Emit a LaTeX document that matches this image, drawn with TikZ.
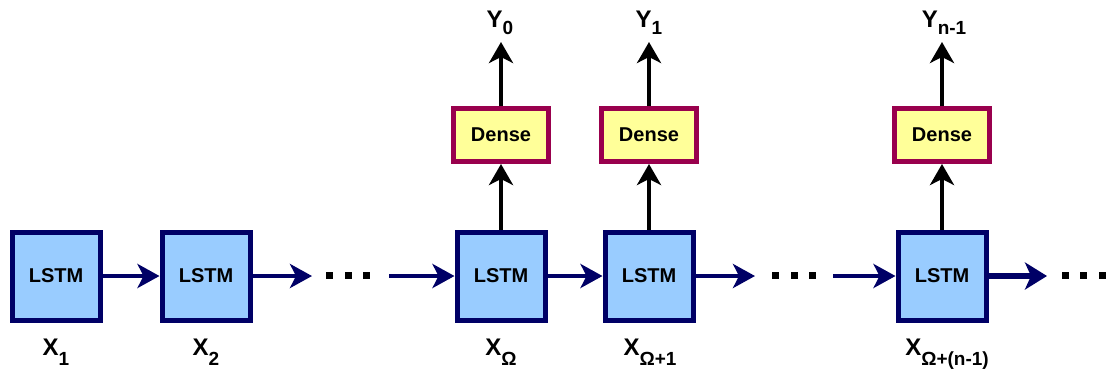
\documentclass[tikz,border=0pt]{standalone}
\usepackage{fontspec}
\setmainfont{Liberation Sans}
\usetikzlibrary{arrows.meta}
\definecolor{navy}{HTML}{000066}
\definecolor{lstmfill}{HTML}{99CCFF}
\definecolor{densefill}{HTML}{FFFF99}
\definecolor{densedraw}{HTML}{99004D}
\newcommand{\subx}[1]{\raisebox{-10pt}{\fontsize{19}{19}\selectfont #1}}
\newcommand{\suby}[1]{\raisebox{-7pt}{\fontsize{19}{19}\selectfont #1}}
\begin{document}
\begin{tikzpicture}[x=1pt,y=-1pt,
  lstm/.style={draw=navy, line width=5pt, fill=lstmfill, minimum width=88pt, minimum height=88pt, inner sep=0pt, font=\fontsize{20}{20}\selectfont\bfseries},
  dense/.style={draw=densedraw, line width=5pt, fill=densefill, minimum width=95pt, minimum height=53pt, inner sep=0pt, font=\fontsize{20}{20}\selectfont\bfseries},
  harrow/.style={draw=navy, line width=4pt, -{Stealth[length=22pt,width=24pt,inset=6pt]}},
  harrowthick/.style={draw=navy, line width=5.5pt, -{Stealth[length=22pt,width=27pt,inset=6pt]}},
  varrow/.style={draw=black, line width=4pt, -{Stealth[length=21pt,width=24pt,inset=6pt]}},
  sqdot/.style={fill=black, minimum size=7pt, inner sep=0pt, outer sep=0pt},
  lbl/.style={anchor=base, font=\fontsize{24}{24}\selectfont\bfseries, inner sep=0pt}]
\useasboundingbox (0,0) rectangle (1106,373);

% LSTM boxes
\node[lstm] (l1) at (56,276) {LSTM};
\node[lstm] (l2) at (206,276) {LSTM};
\node[lstm] (l3) at (501,276) {LSTM};
\node[lstm] (l4) at (649,276) {LSTM};
\node[lstm] (l5) at (942,276) {LSTM};

% Dense boxes
\node[dense] (d1) at (501,135) {Dense};
\node[dense] (d2) at (649,135) {Dense};
\node[dense] (d3) at (942,135) {Dense};

% free ends
\coordinate (e2) at (312,276);
\coordinate (s3) at (389,276);
\coordinate (e4) at (755,276);
\coordinate (s5) at (833,276);
\coordinate (e5) at (1047,276);
\coordinate (t1) at (501,42);
\coordinate (t2) at (649,42);
\coordinate (t3) at (942,42);

% dots
\node[sqdot] (a1) at (329.5,275.5) {};
\node[sqdot] (a2) at (348,275.5) {};
\node[sqdot] (a3) at (366.5,275.5) {};
\node[sqdot] (b1) at (775.5,275.5) {};
\node[sqdot] (b2) at (794,275.5) {};
\node[sqdot] (b3) at (812.5,275.5) {};
\node[sqdot] (c1) at (1065,275.5) {};
\node[sqdot] (c2) at (1083.5,275.5) {};
\node[sqdot] (c3) at (1102,275.5) {};

% horizontal arrows
\draw[harrow] (l1) -- (l2);
\draw[harrow] (l2) -- (e2);
\draw[harrow] (s3) -- (l3);
\draw[harrow] (l3) -- (l4);
\draw[harrow] (l4) -- (e4);
\draw[harrow] (s5) -- (l5);
\draw[harrowthick] (l5) -- (e5);

% vertical arrows
\draw[varrow] (l3) -- (d1);
\draw[varrow] (l4) -- (d2);
\draw[varrow] (l5) -- (d3);
\draw[varrow] (d1) -- (t1);
\draw[varrow] (d2) -- (t2);
\draw[varrow] (d3) -- (t3);

% labels
\node[lbl] (x1) at (56,355) {X\subx{1}};
\node[lbl] (x2) at (206,355) {X\subx{2}};
\node[lbl] (x3) at (501,355) {X\subx{Ω}};
\node[lbl] (x4) at (650,355) {X\subx{Ω+1}};
\node[lbl] (x5) at (947,355) {X\subx{Ω+(n-1)}};
\node[lbl] (y0) at (500,27) {Y\suby{0}};
\node[lbl] (y1) at (649,27) {Y\suby{1}};
\node[lbl] (y2) at (944,27) {Y\suby{n-1}};
\end{tikzpicture}
\end{document}
